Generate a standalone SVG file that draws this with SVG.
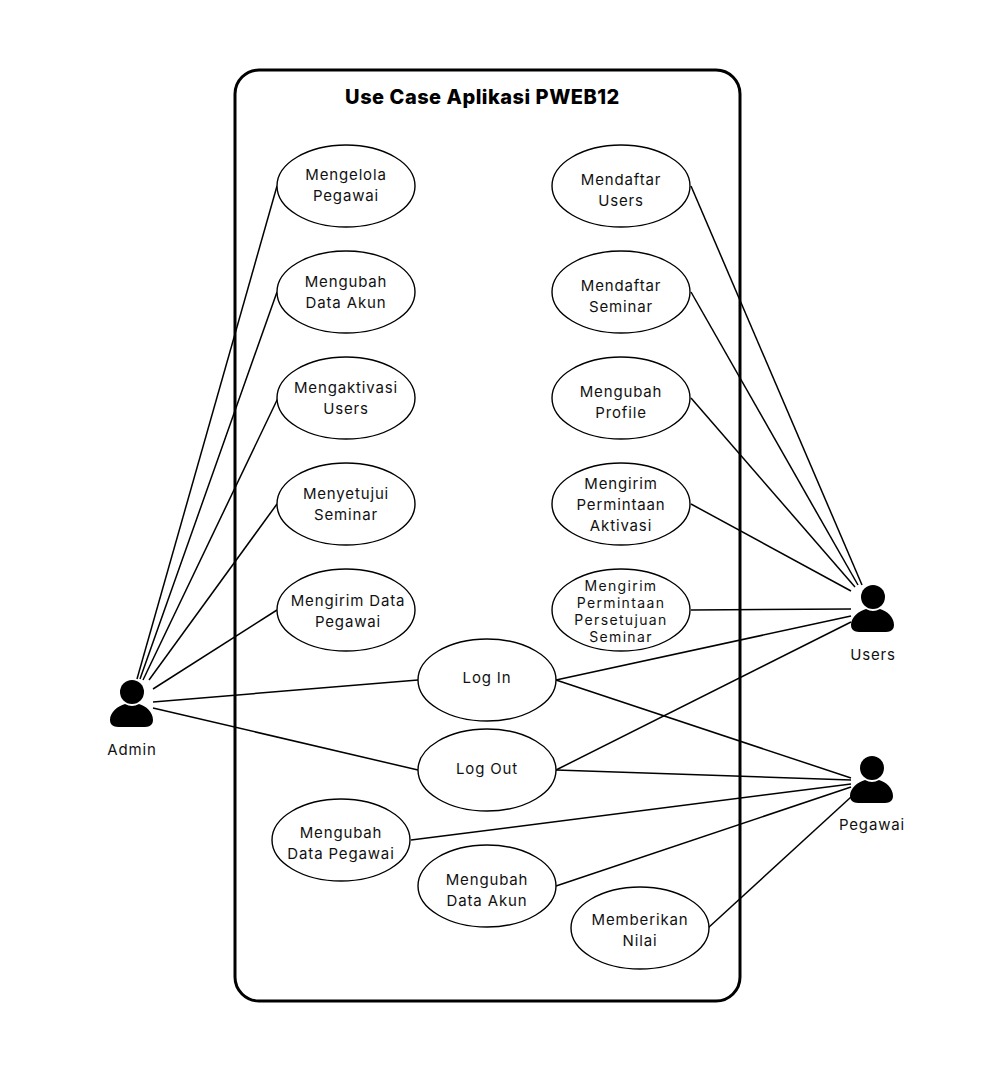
<svg xmlns="http://www.w3.org/2000/svg" width="1005" height="1075" viewBox="0 0 1005 1075">
<style>
.e{fill:#fff;stroke:#000;stroke-width:1.4}
.c line{stroke:#000;stroke-width:1.5}
text{font-family:Inter,"Open Sans","Liberation Sans",sans-serif;font-size:15px;letter-spacing:.85px;text-anchor:middle;fill:#111}
.t{font-family:Inter,"Liberation Sans",sans-serif;font-weight:800;font-size:20px;letter-spacing:.5px;fill:#000}
.s{font-size:14px;letter-spacing:1.35px}
</style>
<defs>
<g id="actor"><circle cx="0" cy="-13" r="12"/><path d="M-22 15C-22 7-14 1-7-1Q0 3 7-1C14 1 21 7 21 15C21 22 15 22 8 22L-8 22C-16 22-22 22-22 15Z"/></g>
</defs>
<rect x="0" y="0" width="1005" height="1075" fill="#fff"/>
<rect id="boundary" x="235" y="70" width="505" height="931" rx="24" fill="#fff" stroke="#000" stroke-width="3"/>
<text class="t" x="482.500" y="104">Use Case Aplikasi PWEB12</text>
<g class="c" id="connectors">
<line x1="137" y1="679" x2="277" y2="186"/>
<line x1="140" y1="679" x2="277" y2="292"/>
<line x1="143" y1="680" x2="278" y2="398"/>
<line x1="149" y1="680" x2="277" y2="504"/>
<line x1="153" y1="689" x2="277" y2="610"/>
<line x1="153" y1="702" x2="418" y2="680"/>
<line x1="153" y1="708" x2="418" y2="770"/>
<line x1="691" y1="186" x2="862" y2="585"/>
<line x1="691" y1="292" x2="858" y2="585"/>
<line x1="691" y1="398" x2="855" y2="587"/>
<line x1="691" y1="504" x2="851" y2="591"/>
<line x1="691" y1="610" x2="851" y2="609"/>
<line x1="556" y1="680" x2="851" y2="616"/>
<line x1="556" y1="770" x2="851" y2="622"/>
<line x1="556" y1="680" x2="851" y2="778"/>
<line x1="556" y1="770" x2="851" y2="780"/>
<line x1="411" y1="840" x2="851" y2="784"/>
<line x1="556" y1="886" x2="851" y2="787"/>
<line x1="708" y1="928" x2="851" y2="797"/>
</g>
<g id="n1"><ellipse class="e" cx="346" cy="186" rx="69" ry="41"/><text x="346" y="180">Mengelola</text><text x="346" y="201">Pegawai</text></g>
<g id="n2"><ellipse class="e" cx="346" cy="292" rx="69" ry="41"/><text x="346" y="287">Mengubah</text><text x="346" y="308">Data Akun</text></g>
<g id="n3"><ellipse class="e" cx="346" cy="398" rx="69" ry="41"/><text x="346" y="393">Mengaktivasi</text><text x="346" y="414">Users</text></g>
<g id="n4"><ellipse class="e" cx="346" cy="504" rx="69" ry="41"/><text x="346" y="499">Menyetujui</text><text x="346" y="520">Seminar</text></g>
<g id="n5"><ellipse class="e" cx="346" cy="610" rx="69" ry="41"/><text x="348" y="606">Mengirim Data</text><text x="348" y="627">Pegawai</text></g>
<g id="n6"><ellipse class="e" cx="621" cy="186" rx="69" ry="41"/><text x="621" y="185">Mendaftar</text><text x="621" y="206">Users</text></g>
<g id="n7"><ellipse class="e" cx="621" cy="292" rx="69" ry="41"/><text x="621" y="291">Mendaftar</text><text x="621" y="312">Seminar</text></g>
<g id="n8"><ellipse class="e" cx="621" cy="398" rx="69" ry="41"/><text x="621" y="397">Mengubah</text><text x="621" y="418">Profile</text></g>
<g id="n9"><ellipse class="e" cx="621" cy="504" rx="69" ry="41"/><text x="621" y="489">Mengirim</text><text x="621" y="510">Permintaan</text><text x="621" y="531">Aktivasi</text></g>
<g id="n10"><ellipse class="e" cx="621" cy="610" rx="69" ry="41"/><text class="s" x="621" y="590.500">Mengirim</text><text class="s" x="621" y="607.500">Permintaan</text><text class="s" x="621" y="624.500">Persetujuan</text><text class="s" x="621" y="641.500">Seminar</text></g>
<g id="n11"><ellipse class="e" cx="487" cy="680" rx="69" ry="41"/><text x="487" y="683">Log In</text></g>
<g id="n12"><ellipse class="e" cx="487" cy="770" rx="69" ry="41"/><text x="487" y="774">Log Out</text></g>
<g id="n13"><ellipse class="e" cx="341" cy="840" rx="69" ry="41"/><text x="341" y="838">Mengubah</text><text x="341" y="859">Data Pegawai</text></g>
<g id="n14"><ellipse class="e" cx="487" cy="886" rx="69" ry="41"/><text x="487" y="885">Mengubah</text><text x="487" y="906">Data Akun</text></g>
<g id="n15"><ellipse class="e" cx="640" cy="928" rx="69" ry="41"/><text x="640" y="925">Memberikan</text><text x="640" y="946">Nilai</text></g>
<g id="admin"><use href="#actor" x="132" y="705"/><text x="132" y="755">Admin</text></g>
<g id="users"><use href="#actor" x="873" y="610"/><text x="873" y="660">Users</text></g>
<g id="pegawai"><use href="#actor" x="872" y="781"/><text x="872" y="830">Pegawai</text></g>
</svg>
